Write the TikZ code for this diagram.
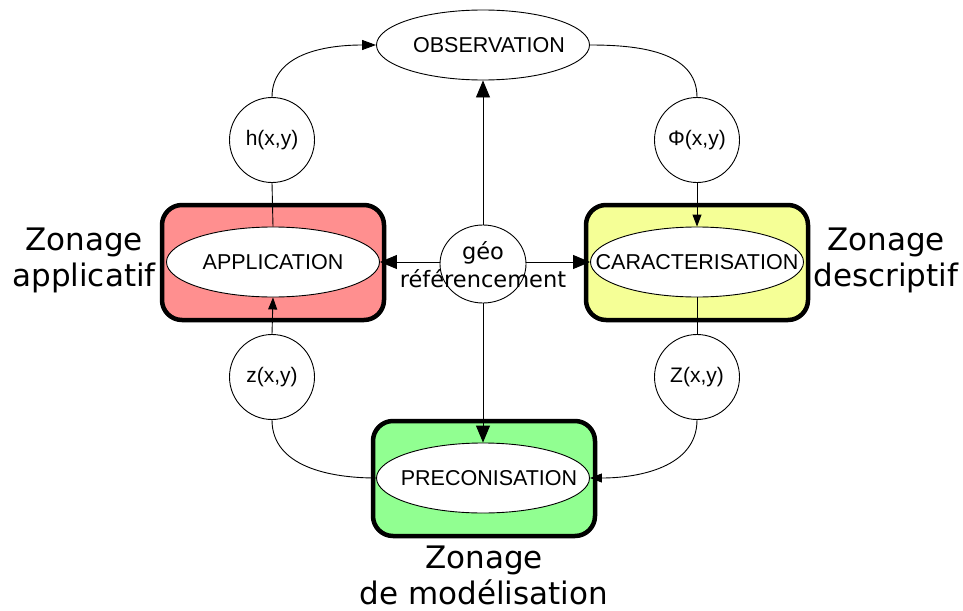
\documentclass[tikz,border=0pt]{standalone}
\usepackage{fontspec}
\setmainfont{DejaVu Sans}
\newfontfamily\arialfont{Liberation Sans}
\usetikzlibrary{arrows.meta,shapes.geometric}

\definecolor{zonered}{RGB}{255,143,143}
\definecolor{zoneyellow}{RGB}{245,255,150}
\definecolor{zonegreen}{RGB}{145,255,145}

\tikzset{
  zonebox/.style={draw=black, line width=4.5pt, rounded corners=20pt,
    minimum width=222pt, minimum height=115pt, inner sep=0pt},
  stage/.style={ellipse, draw=black, fill=white, line width=0.9pt,
    minimum width=213pt, minimum height=70pt, inner sep=0pt},
  stagetext/.style={inner sep=0pt, font=\arialfont\fontsize{21.5}{25}\selectfont},
  func/.style={circle, draw=black, fill=white, line width=0.9pt,
    minimum size=85pt, inner sep=0pt,
    font=\arialfont\fontsize{21}{25}\selectfont},
  zonelabel/.style={align=center, font=\fontsize{31}{36}\selectfont},
  link/.style={line width=0.9pt},
  bigarrow/.style={link, -{Triangle[length=17pt,width=14pt]}},
  midarrow/.style={link, -{Triangle[length=14pt,width=10pt]}},
  smallarrow/.style={link, -{Triangle[length=12pt,width=9pt]}},
}

\begin{document}
\begin{tikzpicture}[x=1pt,y=-1pt]
\useasboundingbox (0,0) rectangle (963,610);

% coloured zones
\node[zonebox, fill=zonered]    (appbox) at (273,262.5) {};
\node[zonebox, fill=zoneyellow] (carbox) at (697,262.5) {};
\node[zonebox, fill=zonegreen]  (prebox) at (484,478.5) {};

% process stages
\node[stage] (obs) at (483,45)  {};
\node[stage] (app) at (273,262) {};
\node[stage] (car) at (697,262) {};
\node[stage] (pre) at (483,478) {};
\node[stagetext] (obstext) at (489,45)  {OBSERVATION};
\node[stagetext] (apptext) at (273,262) {APPLICATION};
\node[stagetext] (cartext) at (697,262) {CARACTERISATION};
\node[stagetext] (pretext) at (489,478) {PRECONISATION};

% transfer functions
\node[func] (h)  at (272,140) {h(x,y)};
\node[func] (phi) at (697,140) {Φ(x,y)};
\node[func] (z)  at (272,377) {z(x,y)};
\node[func] (zz) at (697,377) {Z(x,y)};

% georeferencing hub
\node[ellipse, draw=black, fill=white, line width=0.9pt,
      minimum width=86pt, minimum height=78pt, inner sep=0pt] (geo) at (483,264) {};
\node[align=center, inner sep=0pt, font=\fontsize{22.5}{28}\selectfont] (geotext) at (483,265) {géo\\référencement};

% connectors from the hub
\draw[bigarrow] (geo) -- (obs);
\draw[bigarrow] (geo.west |- app.east) -- (app.east);
\draw[bigarrow] (geo.east |- car.west) -- (car.west);
\draw[bigarrow] (geo) -- (pre);

% cycle around the hub
\draw[midarrow] (h.north) to[out=90,in=180] (obs.west);
\draw[link] (obs.east) to[out=0,in=90] (phi.north);
\draw[smallarrow] (phi.south) -- (car.north);
\draw[link] (car.south) -- (zz.north);
\draw[smallarrow] (zz.south) to[out=-90,in=0] (pre.east);
\draw[link] (z.south) to[out=-90,in=180] (pre.west);
\draw[smallarrow] (z.north) -- (app.south);
\draw[link] (h.south) -- (app.north);

% zone names
\node[zonelabel] (zapp) at (84,260) {Zonage\\applicatif};
\node[zonelabel] (zdesc) at (886,260) {Zonage\\descriptif};
\node[zonelabel] (zmod) at (484,575) {Zonage\\de modélisation};
\end{tikzpicture}
\end{document}
